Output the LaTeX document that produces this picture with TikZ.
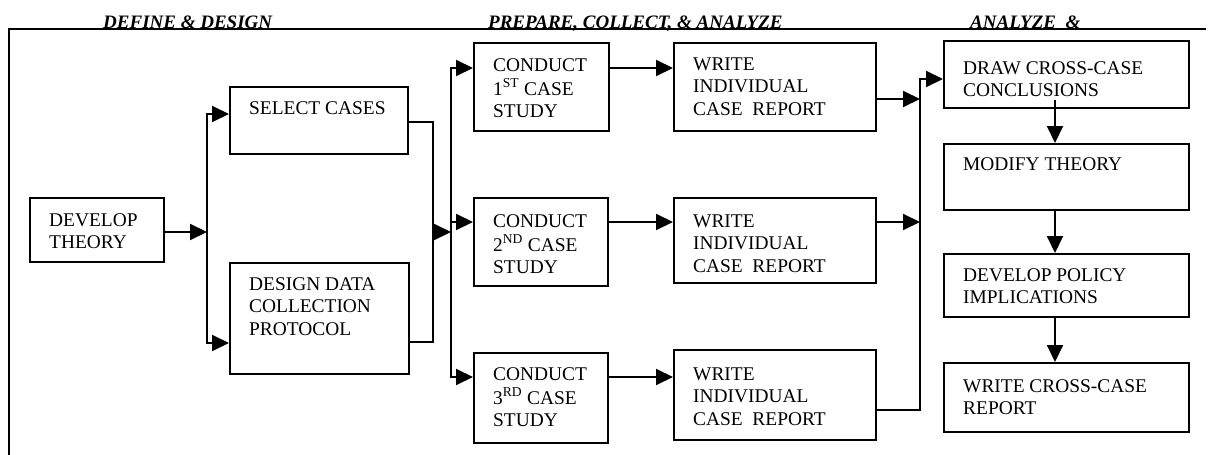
\documentclass[tikz,border=0pt]{standalone}
\usepackage{fontspec}
\setmainfont{Liberation Serif}
\usetikzlibrary{arrows.meta,calc}

\newcommand\bodyfont{\fontsize{19.4}{22.5}\selectfont}
\newcommand\headfont{\fontsize{19}{21}\selectfont\bfseries\itshape}
% text of a box: name, first-baseline offset from the box top, lines
\newcommand\boxtext[3]{%
  \node[lbl] (#1-t) at ($(#1.north west)+(20,#2-15.75)$) {\strut #3};}

\begin{document}
\begin{tikzpicture}[x=1pt,y=-1pt,
  stage/.style={draw, line width=1.8pt, rectangle, anchor=north west, inner sep=0pt},
  lbl/.style={anchor=north west, inner sep=0pt, align=left, font=\bodyfont},
  head/.style={anchor=base west, inner sep=0pt, font=\headfont},
  link/.style={line width=2pt},
  arr/.style={link, -{Triangle[length=17pt,width=16pt]}},
  both/.style={link, {Triangle[length=17pt,width=16pt]}-{Triangle[length=17pt,width=16pt]}}]
\useasboundingbox (0,0) rectangle (1208,455);

% frame with the three stage headings
\draw[line width=1.7pt] (9,455) -- (9,29) -- (1206,29);
\node[head] (h1) at (103,28.5) {DEFINE \& DESIGN};
\node[head] (h2) at (488,28.5) {PREPARE, COLLECT, \& ANALYZE};
\node[head] (h3) at (970,28.5) {ANALYZE\ \ \&};

% boxes
\node[stage, minimum width=134, minimum height=64] (develop) at (29,197) {};
\node[stage, minimum width=178, minimum height=67] (select) at (229,86) {};
\node[stage, minimum width=179, minimum height=111] (design) at (229,262) {};
\node[stage, minimum width=135, minimum height=88] (c1) at (473,42) {};
\node[stage, minimum width=134, minimum height=88] (c2) at (473,197) {};
\node[stage, minimum width=134, minimum height=90] (c3) at (473,352) {};
\node[stage, minimum width=202, minimum height=88] (w1) at (673,42) {};
\node[stage, minimum width=202, minimum height=85] (w2) at (673,197) {};
\node[stage, minimum width=202, minimum height=90] (w3) at (673,349) {};
\node[stage, minimum width=245, minimum height=67] (conc) at (943,40) {};
\node[stage, minimum width=245, minimum height=66] (modify) at (943,143) {};
\node[stage, minimum width=245, minimum height=63] (policy) at (943,253) {};
\node[stage, minimum width=245, minimum height=69] (report) at (943,362) {};

\boxtext{develop}{29}{DEVELOP\\THEORY}
\boxtext{select}{28}{SELECT CASES}
\boxtext{design}{28}{DESIGN DATA\\COLLECTION\\PROTOCOL}
\boxtext{c1}{29}{CONDUCT\\1\textsuperscript{ST} CASE\\STUDY}
\boxtext{c2}{30}{CONDUCT\\2\textsuperscript{ND} CASE\\STUDY}
\boxtext{c3}{28}{CONDUCT\\3\textsuperscript{RD} CASE\\STUDY}
\boxtext{w1}{28}{WRITE\\INDIVIDUAL\\CASE\ \ REPORT}
\boxtext{w2}{30}{WRITE\\INDIVIDUAL\\CASE\ \ REPORT}
\boxtext{w3}{31}{WRITE\\INDIVIDUAL\\CASE\ \ REPORT}
\boxtext{conc}{34}{DRAW CROSS-CASE\\CONCLUSIONS}
\boxtext{modify}{27}{MODIFY THEORY}
\boxtext{policy}{28}{DEVELOP POLICY\\IMPLICATIONS}
\boxtext{report}{30}{WRITE CROSS-CASE\\REPORT}

% junction points of the connectors
\coordinate (f1) at (207,232);
\coordinate (f1a) at (207,114);
\coordinate (f1b) at (207,343);
\coordinate (m1a) at (433,122);
\coordinate (m1b) at (433,342);
\coordinate (m1) at (433,232);
\coordinate (f2) at (451,232);
\coordinate (f2a) at (451,68);
\coordinate (f2b) at (451,377);
\coordinate (f2c) at (451,222);
\coordinate (m2a) at (920,99);
\coordinate (m2b) at (920,222);
\coordinate (m2c) at (920,410);
\coordinate (m2d) at (920,79);
\coordinate (ax) at (1055,0);

% define & design
\draw[arr] (develop.east |- f1) -- (f1);
\draw[both] (select.west |- f1a) -- (f1a) -- (f1b) -- (design.west |- f1b);
\draw[link] (select.east |- m1a) -- (m1a) -- (m1b) -- (design.east |- m1b);
\draw[arr] (m1) -- (f2);

% prepare, collect & analyze
\draw[both] (c1.west |- f2a) -- (f2a) -- (f2b) -- (c3.west |- f2b);
\draw[arr] (f2c) -- (c2.west |- f2c);
\draw[arr] (c1.east |- f2a) -- (w1.west |- f2a);
\draw[arr] (c2.east |- f2c) -- (w2.west |- f2c);
\draw[arr] (c3.east |- f2b) -- (w3.west |- f2b);
\draw[arr] (w1.east |- m2a) -- (m2a);
\draw[arr] (w2.east |- m2b) -- (m2b);
\draw[arr] (w3.east |- m2c) -- (m2c) -- (m2d) -- (conc.west |- m2d);

% analyze & conclude
\draw[arr] ($(ax |- conc.south)+(0,-9)$) -- (ax |- modify.north);
\draw[arr] (ax |- modify.south) -- (ax |- policy.north);
\draw[arr] (ax |- policy.south) -- (ax |- report.north);
\end{tikzpicture}
\end{document}
